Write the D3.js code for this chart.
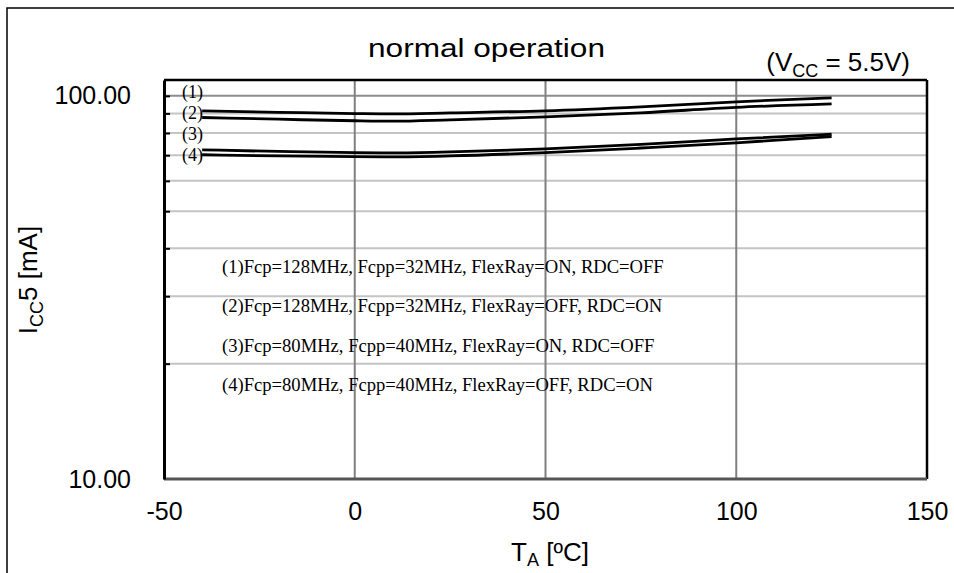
<!DOCTYPE html>
<html>
<head>
<meta charset="utf-8">
<script src="https://cdn.jsdelivr.net/npm/d3@7"></script>
<style>
    body { margin: 0; background: #fff; }
    text { fill: #000; }
</style>
</head>
<body>
<div id="chart"></div>
<script>
// temperatures (degC) the curves were read at
const temps = [-40, -20, 0, 10, 25, 50, 75, 100, 125]

// ICC5 in mA, one list per operating mode
const curve1 = [91.4, 90.6, 89.9, 89.7, 90.3, 91.4, 93.6, 96.5, 98.8]
const curve2 = [87.8, 86.9, 86.1, 85.9, 86.6, 88.1, 90.3, 93.3, 95.3]
const curve3 = [72.3, 71.6, 71.1, 71.0, 71.4, 72.7, 74.7, 77.2, 79.4]
const curve4 = [70.2, 69.7, 69.4, 69.3, 69.7, 71.1, 73.1, 75.4, 78.3]

const curveTags = ["(1)", "(2)", "(3)", "(4)"]
const legendLines = [
    "(1)Fcp=128MHz, Fcpp=32MHz, FlexRay=ON, RDC=OFF",
    "(2)Fcp=128MHz, Fcpp=32MHz, FlexRay=OFF, RDC=ON",
    "(3)Fcp=80MHz, Fcpp=40MHz, FlexRay=ON, RDC=OFF",
    "(4)Fcp=80MHz, Fcpp=40MHz, FlexRay=OFF, RDC=ON"
]

const xTicks = [-50, 0, 50, 100, 150]
const yLabelTicks = [10, 100]
const yGridTicks = [20, 30, 40, 50, 60, 70, 80, 90, 100]

const W = 954, H = 573
const plot = {left: 164, right: 927, top: 80, bottom: 479}
const sans = "'Liberation Sans', Arial, sans-serif"
const serif = "'Liberation Serif', 'Times New Roman', serif"

const svg = d3.select("#chart")
    .append("svg")
    .attr("width", W)
    .attr("height", H)

// outer frame of the figure
svg.append("rect")
    .attr("x", 7).attr("y", 8)
    .attr("width", W).attr("height", H)
    .attr("fill", "none")
    .attr("stroke", "#000")
    .attr("stroke-width", 1.5)

const x = d3.scaleLinear()
    .domain([-50, 150])
    .range([plot.left, plot.right])

const y = d3.scaleLog()
    .domain([10, 110])
    .range([plot.bottom, plot.top])

// horizontal grid
svg.append("g")
    .selectAll("line")
    .data(yGridTicks)
    .join("line")
    .attr("x1", x(-50)).attr("x2", x(150))
    .attr("y1", d => y(d)).attr("y2", d => y(d))
    .attr("stroke", d => d === 100 ? "#8c8c8c" : "#c4c4c4")
    .attr("stroke-width", 2)

// vertical grid
svg.append("g")
    .selectAll("line")
    .data(xTicks.slice(1, -1))
    .join("line")
    .attr("x1", d => x(d)).attr("x2", d => x(d))
    .attr("y1", y(110)).attr("y2", y(10))
    .attr("stroke", "#808080")
    .attr("stroke-width", 2)

// legend text inside the plot
svg.append("g")
    .selectAll("text")
    .data(legendLines)
    .join("text")
    .attr("x", 222)
    .attr("y", (d, i) => 266 + i * 39.6)
    .attr("dominant-baseline", "central")
    .style("font-family", serif)
    .style("font-size", "18.6px")
    .text(d => d)

// plot border
svg.append("line")
    .attr("x1", x(-50)).attr("x2", x(150))
    .attr("y1", y(110)).attr("y2", y(110))
    .attr("stroke", "#000").attr("stroke-width", 2.5)
svg.append("line")
    .attr("x1", x(150)).attr("x2", x(150))
    .attr("y1", y(110)).attr("y2", y(10))
    .attr("stroke", "#000").attr("stroke-width", 2.5)
svg.append("line")
    .attr("x1", x(-50)).attr("x2", x(150))
    .attr("y1", y(10)).attr("y2", y(10))
    .attr("stroke", "#555").attr("stroke-width", 3)

// left axis: labels only at the decades
svg.append("g")
    .attr("transform", `translate(${plot.left},0)`)
    .call(d3.axisLeft(y)
        .tickValues(yLabelTicks)
        .tickFormat(d3.format(".2f"))
        .tickSize(0)
        .tickPadding(33))
    .call(g => g.selectAll("text")
        .style("font-family", sans)
        .style("font-size", "25px"))
    .call(g => g.select(".domain")
        .attr("stroke", "#000")
        .attr("stroke-width", 3))

// little inward ticks on the left axis
svg.append("g")
    .attr("transform", `translate(${plot.left},0)`)
    .call(d3.axisRight(y).tickValues(yGridTicks).tickSize(6).tickFormat(""))
    .call(g => g.select(".domain").remove())
    .call(g => g.selectAll("line").attr("stroke", "#000").attr("stroke-width", 2))

svg.append("g")
    .attr("transform", `translate(0,${plot.bottom})`)
    .call(d3.axisBottom(x)
        .tickValues(xTicks)
        .tickFormat(d => String(d))
        .tickSize(0)
        .tickPadding(23))
    .call(g => g.select(".domain").remove())
    .call(g => g.selectAll("text")
        .style("font-family", sans)
        .style("font-size", "25px"))

const line = d3.line()
    .x((d, i) => x(temps[i]))
    .y(d => y(d))
    .curve(d3.curveMonotoneX)

svg.append("g")
    .selectAll("path")
    .data([curve1, curve2, curve3, curve4])
    .join("path")
    .attr("d", line)
    .attr("fill", "none")
    .attr("stroke", "#000")
    .attr("stroke-width", 2.8)

// curve tags near the left axis
svg.append("g")
    .selectAll("text")
    .data(curveTags)
    .join("text")
    .attr("x", 182)
    .attr("y", (d, i) => 92 + i * 21)
    .attr("dominant-baseline", "central")
    .style("font-family", serif)
    .style("font-size", "18px")
    .text(d => d)

// title
svg.append("text")
    .attr("x", 368)
    .attr("y", 57)
    .attr("textLength", 237)
    .attr("lengthAdjust", "spacingAndGlyphs")
    .style("font-family", sans)
    .style("font-size", "26px")
    .text("normal operation")

const cond = svg.append("text")
    .attr("x", 910)
    .attr("y", 71)
    .attr("text-anchor", "end")
    .style("font-family", sans)
    .style("font-size", "26px")
cond.append("tspan").text("(V")
cond.append("tspan").attr("dy", 6).style("font-size", "18px").text("CC")
cond.append("tspan").attr("dy", -6).text(" = 5.5V)")

// axis titles
const xTitle = svg.append("text")
    .attr("x", 550)
    .attr("y", 561)
    .attr("text-anchor", "middle")
    .style("font-family", sans)
    .style("font-size", "26px")
xTitle.append("tspan").text("T")
xTitle.append("tspan").attr("dy", 5).style("font-size", "18px").text("A")
xTitle.append("tspan").attr("dy", -5).text(" [ºC]")

const yTitle = svg.append("text")
    .attr("transform", "translate(37,280) rotate(-90)")
    .attr("text-anchor", "middle")
    .style("font-family", sans)
    .style("font-size", "26px")
yTitle.append("tspan").text("I")
yTitle.append("tspan").attr("dy", 6).style("font-size", "18px").text("CC")
yTitle.append("tspan").attr("dy", -6).text("5 [mA]")
</script>
</body>
</html>
